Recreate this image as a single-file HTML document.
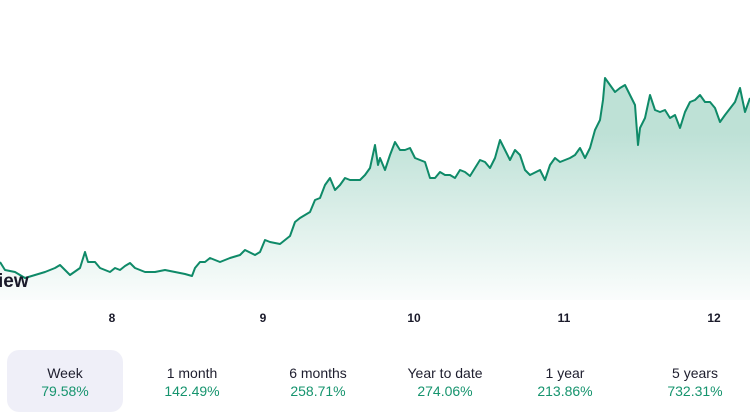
<!DOCTYPE html>
<html><head><style>
body{margin:0;width:750px;height:420px;background:#fff;font-family:"Liberation Sans",sans-serif;position:relative;overflow:hidden}
.t{position:absolute;font-weight:bold;color:#1a1a2a}
.ax{position:absolute;top:311px;font-size:12px;font-weight:bold;color:#1a1a2a;transform:translateX(-50%)}
.b{position:absolute;top:350px;width:116px;height:62px;text-align:center;border-radius:12px}
.b .l{margin-top:15px;font-size:14px;color:#1e1e2e}
.b .v{margin-top:2px;font-size:14px;color:#16946e}
</style></head><body>
<svg width="750" height="300" style="position:absolute;left:0;top:0">
<defs><linearGradient id="g" x1="0" y1="0" x2="0" y2="1"><stop offset="0.25" stop-color="#16946e" stop-opacity="0.28"/><stop offset="1" stop-color="#16946e" stop-opacity="0.02"/></linearGradient></defs>
<polygon fill="url(#g)" points="0,300 0,262 5,270 15,272 25,278 35,275 45,272 55,268 60,265 65,270 70,275 80,268 85,252 88,262 95,262 100,268 105,270 110,272 115,268 120,270 125,266 130,263 135,268 145,272 155,272 165,270 175,272 185,274 192,276 195,268 200,262 205,262 210,258 220,262 230,258 240,255 245,250 255,255 260,252 265,240 270,242 280,244 290,236 295,222 300,218 310,212 315,200 320,198 325,185 330,178 335,190 340,185 345,178 350,180 360,180 365,175 370,168 375,145 378,165 380,158 385,170 390,155 395,142 400,150 405,150 410,148 415,158 420,160 425,162 430,178 435,178 440,172 445,175 450,175 455,178 460,170 465,172 470,176 475,168 480,160 485,162 490,168 495,158 500,140 505,150 510,160 515,150 520,155 525,170 530,175 540,170 545,180 550,165 555,158 560,162 565,160 570,158 575,155 580,148 585,158 590,148 595,130 600,120 603,100 605,78 610,85 615,92 620,88 625,85 630,95 635,105 638,145 640,128 645,118 650,95 655,110 660,112 665,110 670,118 675,115 680,128 685,112 690,102 695,100 700,95 705,102 710,102 715,108 720,122 725,115 735,102 740,88 745,112 750,98 750,300"/>
<polyline fill="none" stroke="#0f8a68" stroke-width="2" stroke-linejoin="round" points="0,262 5,270 15,272 25,278 35,275 45,272 55,268 60,265 65,270 70,275 80,268 85,252 88,262 95,262 100,268 105,270 110,272 115,268 120,270 125,266 130,263 135,268 145,272 155,272 165,270 175,272 185,274 192,276 195,268 200,262 205,262 210,258 220,262 230,258 240,255 245,250 255,255 260,252 265,240 270,242 280,244 290,236 295,222 300,218 310,212 315,200 320,198 325,185 330,178 335,190 340,185 345,178 350,180 360,180 365,175 370,168 375,145 378,165 380,158 385,170 390,155 395,142 400,150 405,150 410,148 415,158 420,160 425,162 430,178 435,178 440,172 445,175 450,175 455,178 460,170 465,172 470,176 475,168 480,160 485,162 490,168 495,158 500,140 505,150 510,160 515,150 520,155 525,170 530,175 540,170 545,180 550,165 555,158 560,162 565,160 570,158 575,155 580,148 585,158 590,148 595,130 600,120 603,100 605,78 610,85 615,92 620,88 625,85 630,95 635,105 638,145 640,128 645,118 650,95 655,110 660,112 665,110 670,118 675,115 680,128 685,112 690,102 695,100 700,95 705,102 710,102 715,108 720,122 725,115 735,102 740,88 745,112 750,98"/>
</svg>
<div class="t" style="left:-2px;top:271px;font-size:19px">iew</div>
<div class="ax" style="left:112px">8</div>
<div class="ax" style="left:263px">9</div>
<div class="ax" style="left:414px">10</div>
<div class="ax" style="left:564px">11</div>
<div class="ax" style="left:714px">12</div>
<div class="b" style="left:7px;background:#efeff8"><div class="l">Week</div><div class="v">79.58%</div></div>
<div class="b" style="left:134px"><div class="l">1 month</div><div class="v">142.49%</div></div>
<div class="b" style="left:260px"><div class="l">6 months</div><div class="v">258.71%</div></div>
<div class="b" style="left:387px"><div class="l">Year to date</div><div class="v">274.06%</div></div>
<div class="b" style="left:507px"><div class="l">1 year</div><div class="v">213.86%</div></div>
<div class="b" style="left:637px"><div class="l">5 years</div><div class="v">732.31%</div></div>
</body></html>
